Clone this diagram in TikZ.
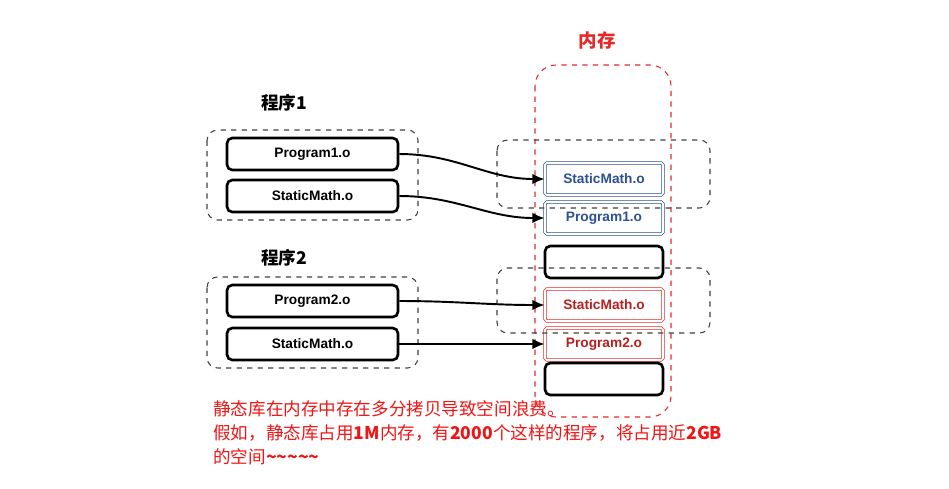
\documentclass[tikz,border=0pt]{standalone}
\usepackage{fontspec}
\setmainfont{Noto Sans CJK SC}
\newfontfamily\objfont{Liberation Sans}
\usetikzlibrary{positioning,arrows.meta}

\definecolor{memred}{RGB}{230,40,40}
\definecolor{memblue}{RGB}{45,80,150}
\definecolor{txtred}{RGB}{240,20,20}

\tikzset{
	objbox/.style={draw,line width=1.5pt,rounded corners=3pt,fill=white,
		minimum width=3.42cm,minimum height=0.64cm,font=\objfont\bfseries\fontsize{7.8}{9}\selectfont},
	membox/.style={objbox,minimum width=2.36cm},
	blueobj/.style={membox,draw=memblue,line width=0.45pt,double,double distance=0.9pt,text=memblue,rounded corners=1pt},
	redobj/.style={membox,draw=memred,line width=0.45pt,double,double distance=0.9pt,text=memred!80!black,rounded corners=1pt},
	grouprect/.style={draw=black!75,dashed,line width=0.6pt,rounded corners=6pt},
	link/.style={-{Latex[length=7pt,width=6pt]},line width=1.1pt}
}

\begin{document}
\begin{tikzpicture}[x=0.02cm,y=-0.02cm]
	\useasboundingbox (0,0) rectangle (949,488);

	% program 1
	\node[font=\bfseries\fontsize{10}{11}\selectfont] (p1title) at (284,103) {程序1};
	\draw[grouprect] (207,130) rectangle (418,220);
	\node[objbox] (p1prog) at (312.5,154) {Program1.o};
	\node[objbox] (p1math) at (312.5,196) {StaticMath.o};

	% program 2
	\node[font=\bfseries\fontsize{10}{11}\selectfont] (p2title) at (284,258) {程序2};
	\draw[grouprect] (207,277) rectangle (418,368);
	\node[objbox] (p2prog) at (312.5,301) {Program2.o};
	\node[objbox] (p2math) at (312.5,344) {StaticMath.o};

	% memory
	\node[text=memred,font=\bfseries\fontsize{10.5}{11}\selectfont] (memtitle) at (597,40) {内存};
	\draw[memred,dashed,line width=0.6pt,rounded corners=12pt] (535,65) rectangle (671,417);

	\node[blueobj] (m1) at (604,179) {StaticMath.o};
	\node[blueobj] (m2) at (604,218) {Program1.o};
	\node[membox] (m3) at (604,262) {};
	\node[redobj] (m4) at (604,305) {StaticMath.o};
	\node[redobj] (m5) at (604,344) {Program2.o};
	\node[membox] (m6) at (604,379) {};

	\draw[grouprect] (497,140) rectangle (710,208);
	\draw[grouprect] (497,268) rectangle (710,333);

	% links
	\draw[link] (p1prog.east) to[out=0,in=180] (m1.west);
	\draw[link] (p1math.east) to[out=0,in=180] (m2.west);
	\draw[link] (p2prog.east) to[out=0,in=180] (m4.west);
	\draw[link] (p2math.east) to[out=0,in=180] (m5.west);

	% note
	\node[anchor=north west,align=left,text=txtred,font=\fontsize{10}{13.6}\selectfont,inner sep=0pt] (note) at (213,400)
		{静态库在内存中存在多分拷贝导致空间浪费。\\
		 假如，静态库占用\textbf{1M}内存，有\textbf{2000}个这样的程序，将占用近\textbf{2GB}\\
		 的空间\textbf{\textasciitilde\textasciitilde\textasciitilde\textasciitilde\textasciitilde}};
\end{tikzpicture}
\end{document}
